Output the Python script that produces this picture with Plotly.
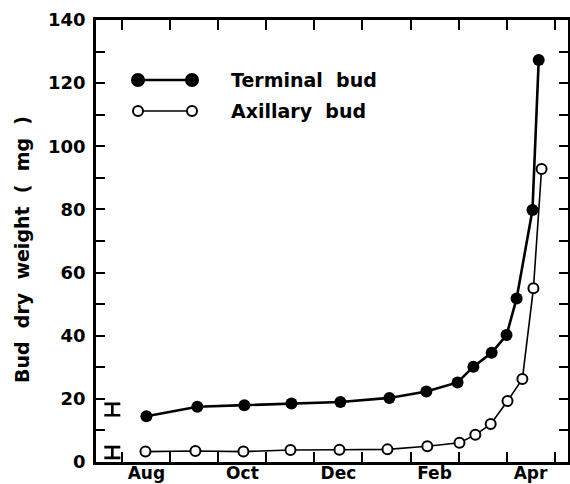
import plotly.graph_objects as go

# ---- data (x in months since 1 Aug) ----
terminal_month = [0.50, 1.56, 2.54, 3.52, 4.54, 5.56, 6.33, 6.98, 7.31, 7.69, 8.00, 8.21, 8.54, 8.67]
terminal_wt = [14.5, 17.5, 18.0, 18.5, 19.0, 20.3, 22.3, 25.2, 30.2, 34.6, 40.2, 51.8, 79.8, 127.3]

axillary_month = [0.48, 1.52, 2.52, 3.50, 4.52, 5.52, 6.35, 7.02, 7.35, 7.67, 8.02, 8.33, 8.56, 8.73]
axillary_wt = [3.3, 3.5, 3.3, 3.8, 3.9, 4.0, 5.0, 6.1, 8.6, 12.0, 19.3, 26.3, 55.0, 92.8]

err_month = [-0.21, -0.21]
err_center = [16.6, 3.0]
err_half = [1.8, 1.7]

month_tick_pos = [0.5, 2.5, 4.5, 6.5, 8.5]
month_tick_text = ["Aug", "Oct", "Dec", "Feb", "Apr"]
month_bounds = [0, 1, 2, 3, 4, 5, 6, 7, 8, 9]
y_ticks = [0, 20, 40, 60, 80, 100, 120, 140]

legend_names = ["Terminal bud", "Axillary bud"]

FONT = "DejaVu Sans"
W, H = 570, 484
L, R, T, B = 96, 2, 20, 22
PW, PH = W - L - R, H - T - B

fig = go.Figure()

fig.add_trace(go.Scatter(
    x=terminal_month, y=terminal_wt, mode="lines+markers",
    line=dict(color="black", width=2.6),
    marker=dict(symbol="circle", size=12, color="black"),
    name=legend_names[0], showlegend=False))

fig.add_trace(go.Scatter(
    x=axillary_month, y=axillary_wt, mode="lines+markers",
    line=dict(color="black", width=1.6),
    marker=dict(symbol="circle", size=10, color="white",
                line=dict(color="black", width=2)),
    name=legend_names[1], showlegend=False))

fig.add_trace(go.Scatter(
    x=err_month, y=err_center, mode="markers",
    marker=dict(size=1, color="rgba(0,0,0,0)"),
    error_y=dict(type="data", array=err_half, visible=True,
                 color="black", thickness=2.6, width=8),
    showlegend=False, hoverinfo="skip"))


def px2paper(px, py):
    return (px - L) / PW, (H - B - py) / PH


shapes = []
annotations = []
leg_rows = [(80, True), (111, False)]
for (py, filled), name in zip(leg_rows, legend_names):
    xa, ya = px2paper(138, py)
    xb, _ = px2paper(192, py)
    shapes.append(dict(type="line", xref="paper", yref="paper",
                       x0=xa, x1=xb, y0=ya, y1=ya,
                       line=dict(color="black", width=2.6 if filled else 1.6)))
    r = 6 if filled else 5
    for xc in (xa, xb):
        shapes.append(dict(type="circle", xref="paper", yref="paper",
                           xsizemode="pixel", ysizemode="pixel",
                           xanchor=xc, yanchor=ya,
                           x0=-r, x1=r, y0=-r, y1=r,
                           fillcolor="black" if filled else "white",
                           line=dict(color="black", width=2)))
    tx, ty = px2paper(229, py)
    annotations.append(dict(xref="paper", yref="paper", x=tx, y=ty,
                            xanchor="left", yanchor="middle", showarrow=False,
                            text=name.replace(" ", "\u00a0\u00a0"),
                            font=dict(family=FONT, size=19, color="black", weight="bold")))

# y-axis title
tx, ty = px2paper(22, 250)
annotations.append(dict(xref="paper", yref="paper", x=tx, y=ty,
                        xanchor="center", yanchor="middle", showarrow=False,
                        textangle=-90,
                        text="Bud\u00a0\u00a0dry\u00a0\u00a0weight\u00a0\u00a0(\u00a0\u00a0mg\u00a0\u00a0)",
                        font=dict(family=FONT, size=19, color="black", weight="bold")))

fig.update_layout(
    width=W, height=H,
    margin=dict(l=L, r=R, t=T, b=B, autoexpand=False),
    paper_bgcolor="white", plot_bgcolor="white",
    shapes=shapes, annotations=annotations,
    showlegend=False,
    xaxis=dict(
        range=[-0.55, 9.28], showgrid=False, zeroline=False,
        showline=True, linecolor="black", linewidth=2.5, mirror="ticks",
        tickmode="array", tickvals=month_tick_pos, ticktext=month_tick_text,
        ticks="", ticklabelstandoff=-6, automargin=False,
        tickfont=dict(family=FONT, size=17, color="black", weight="bold"),
        minor=dict(tickmode="array", tickvals=month_bounds, ticks="inside",
                   ticklen=10, tickwidth=2, tickcolor="black", showgrid=False),
    ),
    yaxis=dict(
        range=[0, 140], showgrid=False, zeroline=False,
        showline=True, linecolor="black", linewidth=2.5, mirror="ticks",
        tickmode="array", tickvals=y_ticks, automargin=False,
        ticks="inside", ticklen=9, tickwidth=2, tickcolor="black",
        ticklabelstandoff=4,
        tickfont=dict(family=FONT, size=18, color="black", weight="bold"),
        minor=dict(dtick=10, ticks="inside", ticklen=9, tickwidth=2,
                   tickcolor="black", showgrid=False),
    ),
)

fig.write_html("out.html", config={"displayModeBar": False},
               post_script="document.body.style.margin='0px';document.body.style.overflow='hidden';")
